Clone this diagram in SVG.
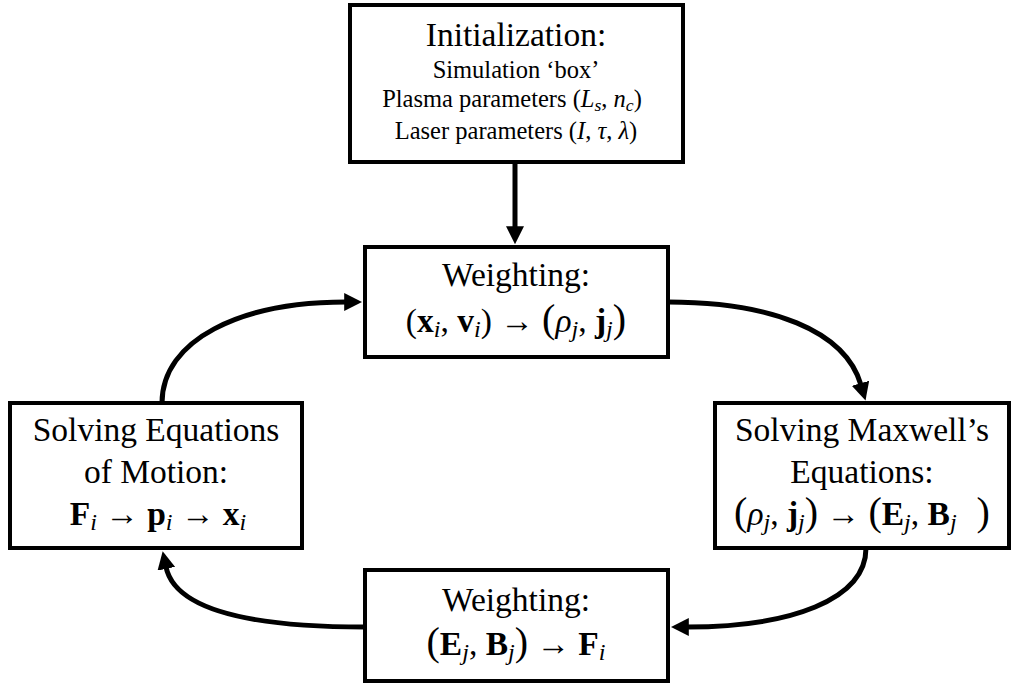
<svg xmlns="http://www.w3.org/2000/svg" width="1013" height="685" viewBox="0 0 1013 685">
<style>
.box{fill:#fff;stroke:#000;stroke-width:4}
text{font-family:"Liberation Serif","Times New Roman",serif;fill:#000;text-anchor:middle}
.t{font-size:33.5px}
.s{font-size:24.5px}
.i{font-style:italic}
.b{font-weight:bold}
.sub{font-size:0.72em;font-style:italic}
.con{fill:none;stroke:#000;stroke-width:5}
</style>
<defs>
<marker id="ah" viewBox="0 0 10 10" refX="1" refY="5" markerWidth="18" markerHeight="18" markerUnits="userSpaceOnUse" orient="auto">
<path d="M0,0 L10,5 L0,10 z" fill="#000"/>
</marker>
</defs>
<g id="connectors">
<path class="con" d="M515,162 L515,228" marker-end="url(#ah)"/>
<path class="con" d="M162,403 C162,340 240,302 346,302" marker-end="url(#ah)"/>
<path class="con" d="M668,302 C770,302 845,330 861,385" marker-end="url(#ah)"/>
<path class="con" d="M866,548 C866,600 790,627 687,627" marker-end="url(#ah)"/>
<path class="con" d="M365,627 C250,627 175,610 166,567" marker-end="url(#ah)"/>
</g>
<g id="init">
<rect class="box" x="350" y="5" width="333" height="157"/>
<text class="t" x="516" y="46">Initialization:</text>
<text class="s" x="516" y="78">Simulation ‘box’</text>
<text class="s" x="512" y="107">Plasma parameters (<tspan class="i">L</tspan><tspan class="sub" dy="4">s</tspan><tspan dy="-4">, </tspan><tspan class="i">n</tspan><tspan class="sub" dy="4">c</tspan><tspan dy="-4">)</tspan></text>
<text class="s" x="516" y="139">Laser parameters (<tspan class="i">I</tspan>, <tspan class="i">τ</tspan>, <tspan class="i">λ</tspan>)</text>
</g>
<g id="weight1">
<rect class="box" x="365" y="247" width="303" height="110"/>
<text class="t" x="516" y="286">Weighting:</text>
<text class="t" x="516" y="332" xml:space="preserve">(<tspan class="b">x</tspan><tspan class="sub" dy="5">i</tspan><tspan dy="-5">, </tspan><tspan class="b">v</tspan><tspan class="sub" dy="5">i</tspan><tspan dy="-5">) → </tspan><tspan font-size="40">(</tspan><tspan class="i">ρ</tspan><tspan class="sub" dy="5">j</tspan><tspan dy="-5">, </tspan><tspan class="b">j</tspan><tspan class="sub" dy="5">j</tspan><tspan dy="-5" font-size="40">)</tspan></text>
</g>
<g id="maxwell">
<rect class="box" x="715" y="403" width="294" height="145"/>
<text class="t" x="862" y="441">Solving Maxwell’s</text>
<text class="t" x="862" y="483">Equations:</text>
<text class="t" x="862" y="525" xml:space="preserve"><tspan font-size="40">(</tspan><tspan class="i">ρ</tspan><tspan class="sub" dy="5">j</tspan><tspan dy="-5">, </tspan><tspan class="b">j</tspan><tspan class="sub" dy="5">j</tspan><tspan dy="-5" font-size="40">)</tspan><tspan> → </tspan><tspan font-size="40">(</tspan><tspan class="b">E</tspan><tspan class="sub" dy="5">j</tspan><tspan dy="-5">, </tspan><tspan class="b">B</tspan><tspan class="sub" dy="5">j</tspan><tspan dy="-5" font-size="40">  )</tspan></text>
</g>
<g id="weight2">
<rect class="box" x="365" y="570" width="303" height="111"/>
<text class="t" x="516" y="611">Weighting:</text>
<text class="t" x="516" y="655"><tspan font-size="40">(</tspan><tspan class="b">E</tspan><tspan class="sub" dy="5">j</tspan><tspan dy="-5">, </tspan><tspan class="b">B</tspan><tspan class="sub" dy="5">j</tspan><tspan dy="-5" font-size="40">)</tspan><tspan> → </tspan><tspan class="b">F</tspan><tspan class="sub" dy="5">i</tspan></text>
</g>
<g id="motion">
<rect class="box" x="10" y="403" width="292" height="145"/>
<text class="t" x="156" y="441">Solving Equations</text>
<text class="t" x="156" y="483">of Motion:</text>
<text class="t" x="158" y="525"><tspan class="b">F</tspan><tspan class="sub" dy="5">i</tspan><tspan dy="-5"> → </tspan><tspan class="b">p</tspan><tspan class="sub" dy="5">i</tspan><tspan dy="-5"> → </tspan><tspan class="b">x</tspan><tspan class="sub" dy="5">i</tspan></text>
</g>
</svg>
